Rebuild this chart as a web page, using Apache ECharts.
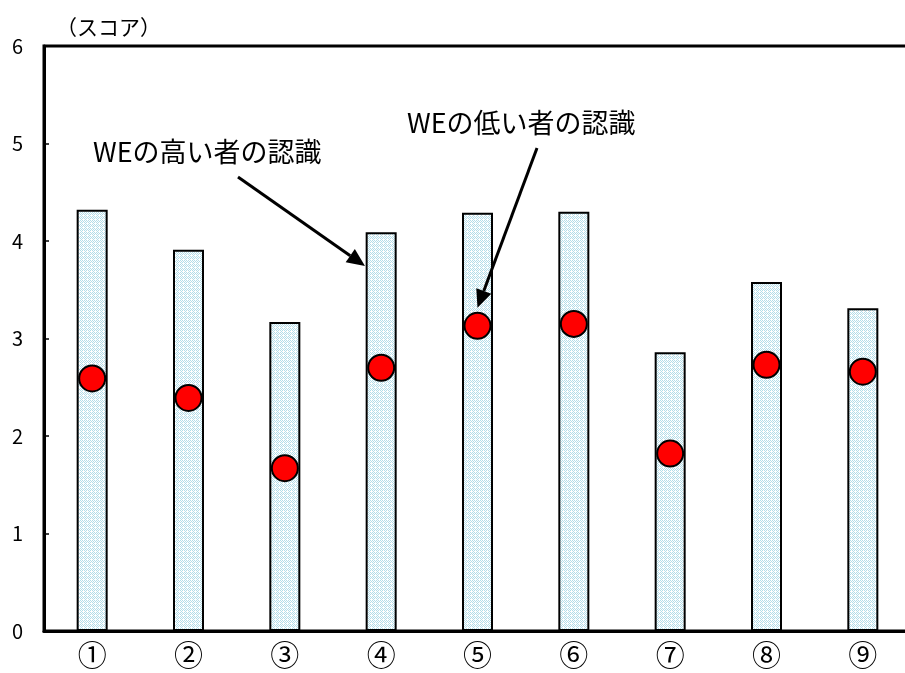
<!DOCTYPE html>
<html>
<head>
<meta charset="utf-8">
<script src="https://cdn.jsdelivr.net/npm/echarts@6/dist/echarts.min.js"></script>
<style>
html, body { margin: 0; padding: 0; background: #fff; }
#chart { width: 905px; height: 673px; }
</style>
</head>
<body>
<div id="chart"></div>
<script>
var categories = ['①', '②', '③', '④', '⑤', '⑥', '⑦', '⑧', '⑨'];
var highWE = [4.32, 3.91, 3.17, 4.09, 4.29, 4.30, 2.86, 3.58, 3.31];   // WEの高い者の認識 (棒)
var lowWE = [2.59, 2.39, 1.67, 2.70, 3.13, 3.15, 1.82, 2.73, 2.66];    // WEの低い者の認識 (丸)
var yTicks = [0, 1, 2, 3, 4, 5, 6];

var font = '"Noto Sans CJK JP", "Liberation Sans", sans-serif';

// 網掛けっぽい塗り
function makePattern() {
    var c = document.createElement('canvas');
    c.width = 4; c.height = 4;
    var ctx = c.getContext('2d');
    ctx.fillStyle = '#ffffff';
    ctx.fillRect(0, 0, 4, 4);
    ctx.fillStyle = '#b4dde9';
    ctx.fillRect(0, 0, 1, 1); ctx.fillRect(2, 0, 1, 1);
    ctx.fillRect(1, 1, 1, 1); ctx.fillRect(3, 1, 1, 1);
    ctx.fillRect(0, 2, 1, 1); ctx.fillRect(2, 2, 1, 1);
    ctx.fillRect(1, 3, 1, 1);
    return c;
}

var chart = echarts.init(document.getElementById('chart'));

var option = {
    animation: false,
    backgroundColor: '#fff',
    grid: {
        left: 44,
        width: 867,
        top: 46,
        bottom: 42,
        outerBoundsMode: 'none',
        show: true,
        borderColor: '#000',
        borderWidth: 3
    },
    xAxis: {
        type: 'category',
        data: categories,
        axisLine: { lineStyle: { color: '#000', width: 3 } },
        axisTick: { show: false },
        axisLabel: { color: '#000', fontSize: 29, margin: 9, fontFamily: font }
    },
    yAxis: {
        type: 'value',
        min: yTicks[0],
        max: yTicks[yTicks.length - 1],
        interval: 1,
        name: '（スコア）',
        nameLocation: 'end',
        nameGap: 8,
        nameTextStyle: { color: '#000', fontSize: 21, fontFamily: font, align: 'left', padding: [0, 0, 0, 12] },
        axisLine: { show: true, lineStyle: { color: '#000', width: 3 } },
        axisTick: { show: true, inside: true, length: 5, lineStyle: { color: '#000', width: 1.5 } },
        splitLine: { show: false },
        axisLabel: { color: '#000', fontSize: 20, margin: 21, fontFamily: font }
    },
    series: [
        {
            name: 'WEの高い者の認識',
            type: 'bar',
            data: highWE,
            barWidth: 31,
            itemStyle: {
                color: { image: makePattern(), repeat: 'repeat' },
                borderColor: '#000',
                borderWidth: 2
            }
        },
        {
            name: 'WEの低い者の認識',
            type: 'scatter',
            data: lowWE,
            symbolSize: 26,
            itemStyle: { color: '#ff0000', borderColor: '#000', borderWidth: 2, opacity: 1 },
            z: 5
        }
    ]
};
chart.setOption(option);

// 注記と矢印
function arrow(x1, y1, x2, y2) {
    var a = Math.atan2(y2 - y1, x2 - x1);
    var L = 18, W = 8;
    var bx = x2 - L * Math.cos(a), by = y2 - L * Math.sin(a);
    return [
        { type: 'line', shape: { x1: x1, y1: y1, x2: bx, y2: by }, style: { stroke: '#000', lineWidth: 3 }, z: 10 },
        { type: 'polygon', shape: { points: [[x2, y2],
            [bx + W * Math.sin(a), by - W * Math.cos(a)],
            [bx - W * Math.sin(a), by + W * Math.cos(a)]] }, style: { fill: '#000' }, z: 10 }
    ];
}

var p5 = chart.convertToPixel({ seriesIndex: 1 }, [4, lowWE[4]]);

chart.setOption({
    graphic: [
        { type: 'text', left: 93, top: 138, z: 10,
          style: { text: 'WEの高い者の認識', fill: '#000', font: '27px ' + font } },
        { type: 'text', left: 407, top: 109, z: 10,
          style: { text: 'WEの低い者の認識', fill: '#000', font: '27px ' + font } }
    ].concat(arrow(238, 177, 365, 266))
     .concat(arrow(537, 148, p5[0], p5[1] - 18))
});

window.addEventListener('resize', function () {
    chart.resize();
});
</script>
</body>
</html>
